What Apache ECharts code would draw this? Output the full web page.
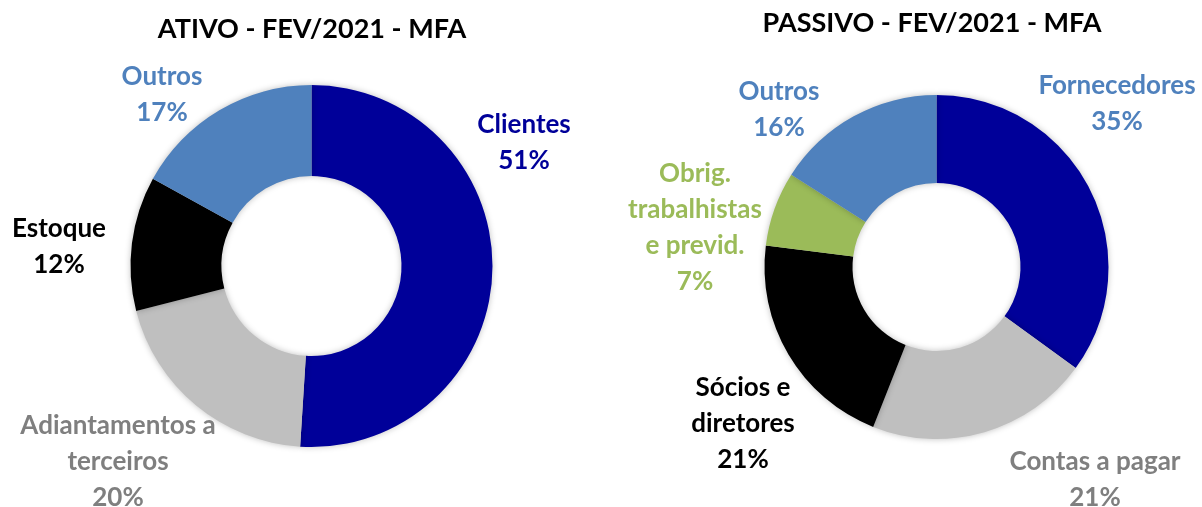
<!DOCTYPE html>
<html lang="pt">
<head>
<meta charset="UTF-8">
<title>Ativo / Passivo - FEV/2021 - MFA</title>
<script src="https://cdn.jsdelivr.net/npm/echarts@6/dist/echarts.min.js"></script>
</head>
<body style="margin:0;background:#fff">
<div id="main" style="width:1202px;height:507px;"></div>
<script>
// dados
var ativoNomes = ['Clientes', 'Adiantamentos a\nterceiros', 'Estoque', 'Outros'];
var ativoValores = [51, 20, 12, 17];
var ativoCores = ['#000099', '#BFBFBF', '#000000', '#4F81BD'];
var ativoCoresTexto = ['#000099', '#7F7F7F', '#000000', '#4F81BD'];

var passivoNomes = ['Fornecedores', 'Contas a pagar', 'Sócios e\ndiretores', 'Obrig.\ntrabalhistas\ne previd.', 'Outros'];
var passivoValores = [35, 21, 21, 7, 16];
var passivoCores = ['#000099', '#BFBFBF', '#000000', '#9BBB59', '#4F81BD'];
var passivoCoresTexto = ['#4F81BD', '#7F7F7F', '#000000', '#9BBB59', '#4F81BD'];

// posicao dos rotulos (centro do bloco de texto), como no original
var ativoRotulos = [[524, 143], [118, 462], [59, 247], [162, 95]];
var passivoRotulos = [[1117, 104], [1095, 480], [743, 424], [695, 228], [779, 110]];

var fonte = 'Lato';

function montaDados(nomes, valores, cores, coresTexto) {
    return nomes.map(function (n, i) {
        return {
            name: n,
            value: valores[i],
            itemStyle: { color: cores[i] },
            label: { color: coresTexto[i] }
        };
    });
}

function serie(nomes, valores, cores, coresTexto, centro, raios, rotulos) {
    return {
        type: 'pie',
        center: centro,
        radius: raios,
        startAngle: 90,
        clockwise: true,
        silent: true,
        data: montaDados(nomes, valores, cores, coresTexto),
        itemStyle: {
            borderWidth: 0,
            shadowBlur: 6,
            shadowColor: 'rgba(0,0,0,0.25)'
        },
        label: {
            show: true,
            position: 'outside',
            formatter: '{b}\n{d}%',
            fontFamily: fonte,
            fontWeight: 'bold',
            fontSize: 26,
            lineHeight: 36,
            align: 'center',
            overflow: 'none'
        },
        edgeDistance: 0,
        labelLine: { show: false },
        labelLayout: function (p) {
            var pos = rotulos[p.dataIndex];
            return { x: pos[0], y: pos[1], align: 'center', verticalAlign: 'middle' };
        }
    };
}

var chart = echarts.init(document.getElementById('main'), null, { renderer: 'canvas' });
chart.setOption({
    animation: false,
    title: [
        {
            text: 'ATIVO - FEV/2021 - MFA',
            left: 307, top: 11, textAlign: 'center',
            textStyle: { fontFamily: fonte, fontWeight: 'bold', fontSize: 27, color: '#000' }
        },
        {
            text: 'PASSIVO - FEV/2021 - MFA',
            left: 927, top: 5, textAlign: 'center',
            textStyle: { fontFamily: fonte, fontWeight: 'bold', fontSize: 27, color: '#000' }
        }
    ],
    series: [
        serie(ativoNomes, ativoValores, ativoCores, ativoCoresTexto, [311.5, 266], [90, 181], ativoRotulos),
        serie(passivoNomes, passivoValores, passivoCores, passivoCoresTexto, [936.5, 267], [84, 172], passivoRotulos)
    ]
});
</script>
</body>
</html>
